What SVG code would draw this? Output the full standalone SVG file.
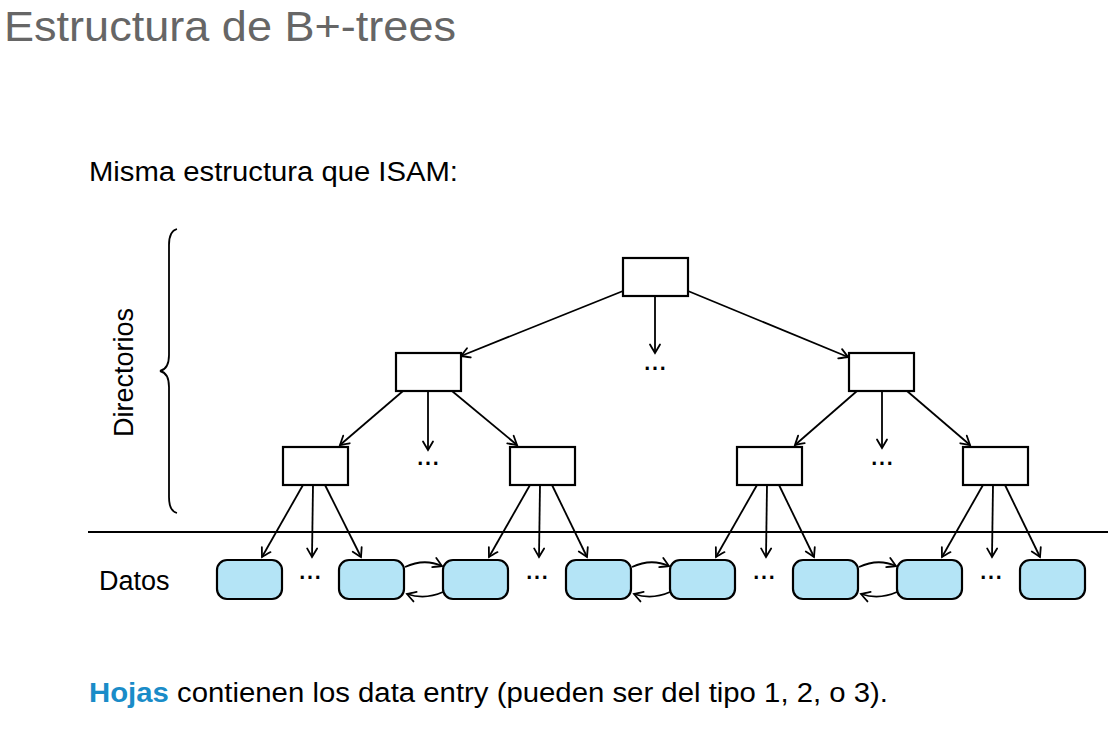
<svg xmlns="http://www.w3.org/2000/svg" width="1117" height="734" viewBox="0 0 1117 734">
<style>
text{font-family:"Liberation Sans",Arial,sans-serif;fill:#000}
.title{font-size:42px;fill:#666}
.body{font-size:27px}
.dots{font-family:"DejaVu Sans",sans-serif;font-size:17px;font-weight:bold}
.box{fill:#fff;stroke:#000;stroke-width:2.2}
.leaf{fill:#b4e4f6;stroke:#000;stroke-width:2.2}
.ln{fill:none;stroke:#000;stroke-width:1.8}
.arr{fill:none;stroke:#000;stroke-width:1.8;marker-end:url(#ah)}
</style>
<defs>
<marker id="ah" viewBox="-12 -7 14 14" markerWidth="14" markerHeight="14" refX="0" refY="0" orient="auto" markerUnits="userSpaceOnUse">
<path d="M-8.5,-5 Q-2.5,-1.5 0,0 Q-2.5,1.5 -8.5,5" fill="none" stroke="#000" stroke-width="1.8" stroke-linecap="round"/>
</marker>
</defs>
<rect width="1117" height="734" fill="#fff"/>
<text class="title" x="4" y="41" textLength="452" lengthAdjust="spacingAndGlyphs">Estructura de B+-trees</text>
<text class="body" x="89" y="181" textLength="369" lengthAdjust="spacingAndGlyphs">Misma estructura que ISAM:</text>
<text class="body" transform="translate(133,437) rotate(-90)" textLength="129" lengthAdjust="spacingAndGlyphs">Directorios</text>
<path id="brace" class="ln" d="M177,229 Q169,231 169,245 L169,355 Q169,369 160,371 Q169,373 169,387 L169,497 Q169,511 177,513"/>
<text class="body" x="99" y="590">Datos</text>
<line class="ln" x1="88" y1="532" x2="1108" y2="532"/>

<g id="connectors">
<path class="arr" d="M623,291 L461,356"/>
<path class="arr" d="M655,296 L655,353"/>
<path class="arr" d="M688,291 L848,357"/>
<path class="arr" d="M403,391 L340,445"/>
<path class="arr" d="M428,391 L428,450"/>
<path class="arr" d="M452,391 L517,445"/>
<path class="arr" d="M857,391 L795,445"/>
<path class="arr" d="M882,391 L882,448"/>
<path class="arr" d="M907,391 L970,445"/>
<path class="arr" d="M303,485 L262,557"/>
<path class="arr" d="M313,485 L312,557"/>
<path class="arr" d="M325,485 L361,557"/>
<path class="arr" d="M530,485 L489,557"/>
<path class="arr" d="M540,485 L539,557"/>
<path class="arr" d="M552,485 L587,557"/>
<path class="arr" d="M757,485 L716,557"/>
<path class="arr" d="M767,485 L766,557"/>
<path class="arr" d="M779,485 L814,557"/>
<path class="arr" d="M983,485 L942,557"/>
<path class="arr" d="M993,485 L992,557"/>
<path class="arr" d="M1005,485 L1040,557"/>
<path class="arr" d="M405,567 Q424,558 442,566"/>
<path class="arr" d="M443,592 Q425,600 407,594"/>
<path class="arr" d="M632,567 Q651,558 669,566"/>
<path class="arr" d="M670,592 Q652,600 634,594"/>
<path class="arr" d="M859,567 Q878,558 896,566"/>
<path class="arr" d="M897,592 Q879,600 861,594"/>
</g>

<g id="root"><rect class="box" x="623" y="258" width="65" height="38"/></g>
<g id="dir-l"><rect class="box" x="396" y="353" width="65" height="38"/></g>
<g id="dir-r"><rect class="box" x="849" y="353" width="65" height="38"/></g>
<g id="dir-ll"><rect class="box" x="283" y="447" width="65" height="38"/></g>
<g id="dir-lr"><rect class="box" x="510" y="447" width="65" height="38"/></g>
<g id="dir-rl"><rect class="box" x="737" y="447" width="65" height="38"/></g>
<g id="dir-rr"><rect class="box" x="963" y="447" width="65" height="38"/></g>

<g id="dots">
<text class="dots" x="644" y="370" textLength="22" lengthAdjust="spacing">...</text>
<text class="dots" x="417" y="465" textLength="22" lengthAdjust="spacing">...</text>
<text class="dots" x="871" y="465" textLength="22" lengthAdjust="spacing">...</text>
<text class="dots" x="299" y="579" textLength="22" lengthAdjust="spacing">...</text>
<text class="dots" x="526" y="579" textLength="22" lengthAdjust="spacing">...</text>
<text class="dots" x="753" y="579" textLength="22" lengthAdjust="spacing">...</text>
<text class="dots" x="980" y="579" textLength="22" lengthAdjust="spacing">...</text>
</g>

<g id="leaf1"><rect class="leaf" x="217" y="560" width="65" height="39" rx="10"/></g>
<g id="leaf2"><rect class="leaf" x="339" y="560" width="65" height="39" rx="10"/></g>
<g id="leaf3"><rect class="leaf" x="443" y="560" width="65" height="39" rx="10"/></g>
<g id="leaf4"><rect class="leaf" x="566" y="560" width="65" height="39" rx="10"/></g>
<g id="leaf5"><rect class="leaf" x="670" y="560" width="65" height="39" rx="10"/></g>
<g id="leaf6"><rect class="leaf" x="793" y="560" width="65" height="39" rx="10"/></g>
<g id="leaf7"><rect class="leaf" x="897" y="560" width="65" height="39" rx="10"/></g>
<g id="leaf8"><rect class="leaf" x="1020" y="560" width="65" height="39" rx="10"/></g>

<text class="body" x="89" y="702" textLength="799" lengthAdjust="spacingAndGlyphs"><tspan font-weight="bold" fill="#1a8cc8">Hojas</tspan> contienen los data entry (pueden ser del tipo 1, 2, o 3).</text>
</svg>
